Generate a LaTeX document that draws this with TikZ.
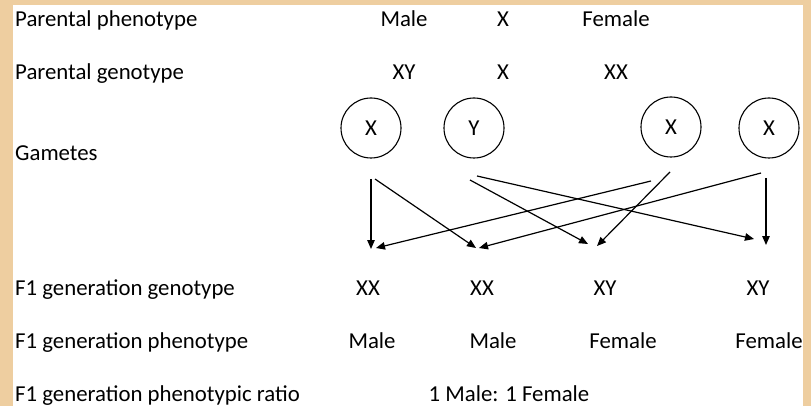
\documentclass[tikz,border=0pt]{standalone}
\usepackage{fontspec}
\setmainfont{Carlito}
\usetikzlibrary{arrows.meta}
\definecolor{parch}{RGB}{238,206,160}
\tikzset{
  lbl/.style={anchor=base west, inner sep=0pt, font=\fontsize{22.8}{27}\selectfont},
  val/.style={anchor=base, inner sep=0pt, font=\fontsize{22.8}{27}\selectfont},
  gamete/.style={draw, circle, minimum size=60pt, inner sep=0pt, line width=1.1pt,
    font=\fontsize{22.8}{27}\selectfont},
  cross/.style={line width=1.2pt, -{Triangle[length=9pt,width=7.5pt]}}
}
\begin{document}
\begin{tikzpicture}[x=1pt,y=-1pt]
  % page: parchment frame with a white sheet
  \useasboundingbox (0,0) rectangle (811,406);
  \fill[parch] (0,0) rectangle (811,406);
  \fill[white] (13,5) rectangle (803,406);

  % row labels
  \node[lbl] (r1) at (15,27)  {Parental phenotype};
  \node[lbl] (r2) at (15,80)  {Parental genotype};
  \node[lbl] (r3) at (15,161) {Gametes};
  \node[lbl] (r4) at (15,295) {F1 generation genotype};
  \node[lbl] (r5) at (15,348) {F1 generation phenotype};
  \node[lbl] (r6) at (15,401) {F1 generation phenotypic ratio};

  % parents
  \node[val] (pm)  at (404,27) {Male};
  \node[val] (px1) at (503,27) {X};
  \node[val] (pf)  at (616,27) {Female};
  \node[val] (gm)  at (404,80) {XY};
  \node[val] (px2) at (503,80) {X};
  \node[val] (gf)  at (616,80) {XX};

  % gametes
  \node[gamete] (g1) at (371,128) {X};
  \node[gamete] (g2) at (474,128) {Y};
  \node[gamete] (g3) at (671,127) {X};
  \node[gamete] (g4) at (769,128) {X};

  % offspring
  \node[val] (o1) at (368,295) {XX};
  \node[val] (o2) at (482,295) {XX};
  \node[val] (o3) at (605,295) {XY};
  \node[val] (o4) at (758,295) {XY};
  \node[val] (f1) at (372,348) {Male};
  \node[val] (f2) at (493,348) {Male};
  \node[val] (f3) at (623,348) {Female};
  \node[val] (f4) at (769,348) {Female};
  \node[val] (ratio) at (509,401) {1 Male: 1 Female};

  % line ends of the crosses
  \coordinate (a1) at (371,179);
  \coordinate (a2) at (375,179);
  \coordinate (b1) at (470,180);
  \coordinate (b2) at (477,176);
  \coordinate (c1) at (651,181);
  \coordinate (c2) at (670,172);
  \coordinate (d1) at (761,173);
  \coordinate (d2) at (766,178);
  \coordinate (t1) at (371,249);
  \coordinate (t1r) at (376,248);
  \coordinate (t2) at (476,248);
  \coordinate (t2r) at (479,248);
  \coordinate (t3) at (588,244);
  \coordinate (t3r) at (597,246);
  \coordinate (t4) at (754,239);
  \coordinate (t4r) at (766,245);

  % crosses
  \draw[cross] (a1) -- (t1);
  \draw[cross] (a2) -- (t2);
  \draw[cross] (b1) -- (t3);
  \draw[cross] (b2) -- (t4);
  \draw[cross] (c1) -- (t1r);
  \draw[cross] (c2) -- (t3r);
  \draw[cross] (d1) -- (t2r);
  \draw[cross] (d2) -- (t4r);
\end{tikzpicture}
\end{document}
